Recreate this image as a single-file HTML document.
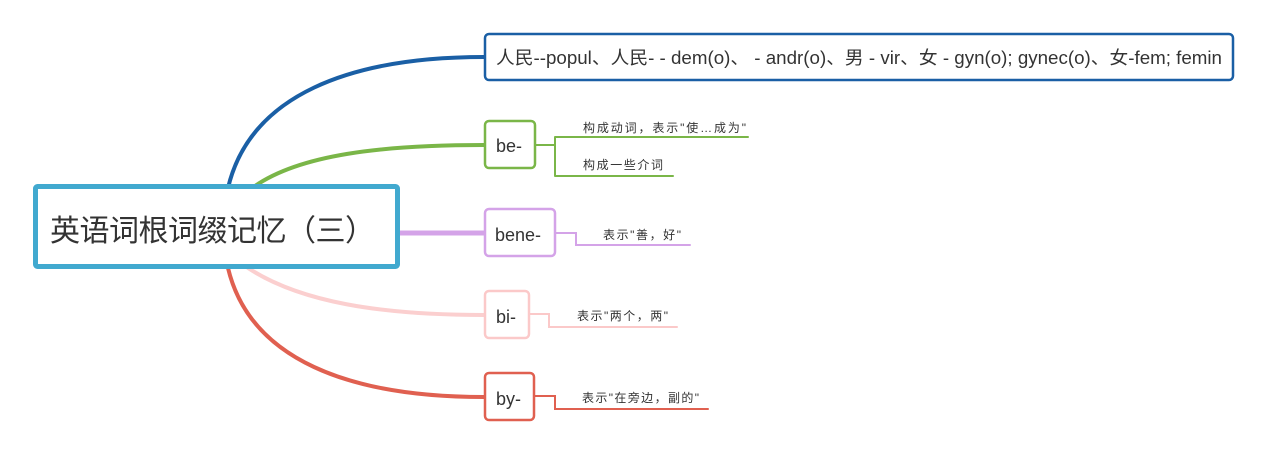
<!DOCTYPE html>
<html><head><meta charset="utf-8"><style>
html,body{margin:0;padding:0;background:#fff;width:1265px;height:452px;overflow:hidden}
svg{display:block}
text{font-family:"Liberation Sans","Noto Sans CJK SC",sans-serif;fill:#333}
</style></head><body>
<svg width="1265" height="452" viewBox="0 0 1265 452">
<g fill="none" stroke-linecap="round">
<path d="M228,188 C250,95 350,57 484,57" stroke="#1a5fa5" stroke-width="4"/>
<path d="M255,186 C300,155 380,145 484,145" stroke="#7ab648" stroke-width="4"/>
<path d="M399,233 L484,233" stroke="#d4a3e8" stroke-width="5"/>
<path d="M248,268 C300,302 380,315 484,315" stroke="#fbcfcf" stroke-width="4"/>
<path d="M228,268 C250,360 350,397 484,397" stroke="#e06050" stroke-width="4"/>
<path d="M536,145 H555 M555,137 V176 M555,137 H748 M555,176 H673" stroke="#7ab648" stroke-width="2"/>
<path d="M556,233 H576 V245 H690" stroke="#d4a3e8" stroke-width="2"/>
<path d="M530,314 H549 V327 H677" stroke="#fbc9c9" stroke-width="2"/>
<path d="M535,396 H555 V409 H708" stroke="#e06050" stroke-width="2"/>
</g>
<rect x="35.5" y="186.5" width="362" height="80" fill="#fff" stroke="#41a9cf" stroke-width="5" rx="2"/>
<text x="50" y="241" font-size="30" textLength="325">英语词根词缀记忆（三）</text>
<rect x="485" y="34" width="748" height="46" fill="#fff" stroke="#1a5fa5" stroke-width="2.5" rx="4"/>
<text x="496" y="64" font-size="18" textLength="726" lengthAdjust="spacingAndGlyphs">人民--popul、人民- - dem(o)、 - andr(o)、男 - vir、女 - gyn(o); gynec(o)、女-fem; femin</text>
<rect x="485" y="121" width="50" height="47" fill="#fff" stroke="#7ab648" stroke-width="2.5" rx="4"/>
<text x="496" y="152" font-size="18">be-</text>
<rect x="485" y="209" width="70" height="47" fill="#fff" stroke="#d4a3e8" stroke-width="2.5" rx="4"/>
<text x="495" y="241" font-size="18">bene-</text>
<rect x="485" y="291" width="44" height="47" fill="#fff" stroke="#fbc9c9" stroke-width="2.5" rx="4"/>
<text x="496" y="323" font-size="18">bi-</text>
<rect x="485" y="373" width="49" height="47" fill="#fff" stroke="#e06050" stroke-width="2.5" rx="4"/>
<text x="496" y="405" font-size="18">by-</text>
<g font-size="12">
<text x="583" y="132" textLength="163">构成动词，表示"使…成为"</text>
<text x="583" y="169" textLength="80">构成一些介词</text>
<text x="603" y="239" textLength="78">表示"善，好"</text>
<text x="577" y="320" textLength="91">表示"两个，两"</text>
<text x="582" y="402" textLength="117">表示"在旁边，副的"</text>
</g>
</svg>
</body></html>
